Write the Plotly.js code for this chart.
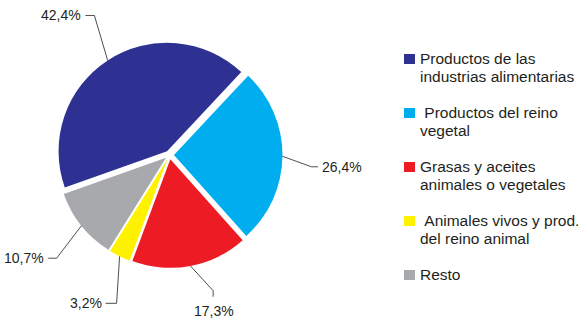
<!DOCTYPE html>
<html><head><meta charset="utf-8">
<script src="https://cdn.plot.ly/plotly-3.0.1.min.js"></script>
<style>html,body{margin:0;padding:0;background:#fff}#chart{width:583px;height:318px}</style>
</head><body><div id="chart"></div>
<script>
// ---- data ----
const categories = ["Productos de las industrias alimentarias", "Productos del reino vegetal", "Grasas y aceites animales o vegetales", "Animales vivos y prod. del reino animal", "Resto"];
const legendLines = [["Productos de las", "industrias alimentarias"], ["\u00a0Productos del reino", "vegetal"], ["Grasas y aceites", "animales o vegetales"], ["\u00a0Animales vivos y prod.", "del reino animal"], ["Resto"]];
const shares = [42.4, 26.4, 17.3, 3.2, 10.7];
const colors = ["#2e3192", "#00aeef", "#ed1c24", "#fff200", "#a7a9ac"];

// ---- layout constants ----
const W = 583, H = 318;
const FONT = "Liberation Sans, Arial, sans-serif";
const TXT = "#231f20";
const domX = [0.0970, 0.4845], domY = [0.1574, 0.8678];
const PULL = 0.041, ROT = -109.5;
// leader-line styling per slice: elbow offset from slice edge, tail, and label placement
const leader = [
  {elbow: [-13.3, -45], tail: [-9, 0], text: [-2, 0], xa: "right", ya: "middle"},
  {elbow: [29, 10.5], tail: [6.5, 0], text: [2, 0], xa: "left", ya: "middle"},
  {elbow: [22.7, 24.7], tail: [0, 6], text: [1, 14], xa: "center", ya: "middle"},
  {elbow: [-3, 47], tail: [-11, 0], text: [-2, 0], xa: "right", ya: "middle"},
  {elbow: [-24.8, 32.5], tail: [-8.4, 0], text: [-2, 0], xa: "right", ya: "middle"}
];

const px = x => x / W, py = y => 1 - y / H;

// pie geometry as Plotly computes it
const cx = W * (domX[0] + domX[1]) / 2;
const cy = H * (1 - (domY[0] + domY[1]) / 2);
const r = Math.min(W * (domX[1] - domX[0]), H * (domY[1] - domY[0])) / 2 / (1 + PULL);
const total = shares.reduce((a, b) => a + b, 0);

const shapes = [], annotations = [];
let acc = 0;
shares.forEach((v, i) => {
  const mid = (ROT + (acc + v / 2) / total * 360) * Math.PI / 180;
  acc += v;
  const R = r * (1 + PULL);
  const ex = cx + R * Math.sin(mid), ey = cy - R * Math.cos(mid);
  const L = leader[i];
  const bx = ex + L.elbow[0], by = ey + L.elbow[1];
  const tx = bx + L.tail[0], ty = by + L.tail[1];
  shapes.push({type: "path", xref: "paper", yref: "paper",
    path: `M ${px(ex)} ${py(ey)} L ${px(bx)} ${py(by)} L ${px(tx)} ${py(ty)}`,
    line: {color: TXT, width: 0.8}});
  annotations.push({xref: "paper", yref: "paper", x: px(tx + L.text[0]), y: py(ty + L.text[1]),
    xanchor: L.xa, yanchor: L.ya, showarrow: false,
    text: v.toFixed(1).replace(".", ",") + "%", font: {family: FONT, size: 14, color: TXT}});
});

// legend drawn as squares + text
const LG = {sqX: 404, sqW: 11, sqH: 10, txtX: 418, base0: 64, step: 54, line: 17.7, fs: 15.5};
categories.forEach((c, i) => {
  const base = LG.base0 + i * LG.step;
  shapes.push({type: "rect", xref: "paper", yref: "paper",
    x0: px(LG.sqX), x1: px(LG.sqX + LG.sqW), y0: py(base), y1: py(base - LG.sqH),
    fillcolor: colors[i], line: {width: 0}});
  legendLines[i].forEach((t, j) => {
    annotations.push({xref: "paper", yref: "paper", x: px(LG.txtX), y: py(base + j * LG.line - 0.35 * LG.fs),
      xanchor: "left", yanchor: "middle", showarrow: false, text: t,
      font: {family: FONT, size: LG.fs, color: TXT}});
  });
});

const data = [{
  type: "pie", labels: categories, values: shares, sort: false, direction: "clockwise",
  rotation: ROT, pull: PULL, domain: {x: domX, y: domY},
  marker: {colors: colors, line: {width: 0}}, textinfo: "none", hoverinfo: "label+percent",
  showlegend: false
}];
const layout = {width: W, height: H, margin: {l: 0, r: 0, t: 0, b: 0},
  paper_bgcolor: "#fff", showlegend: false, shapes: shapes, annotations: annotations,
  font: {family: FONT, color: TXT}};
Plotly.newPlot("chart", data, layout, {displayModeBar: false, staticPlot: true});
</script></body></html>
